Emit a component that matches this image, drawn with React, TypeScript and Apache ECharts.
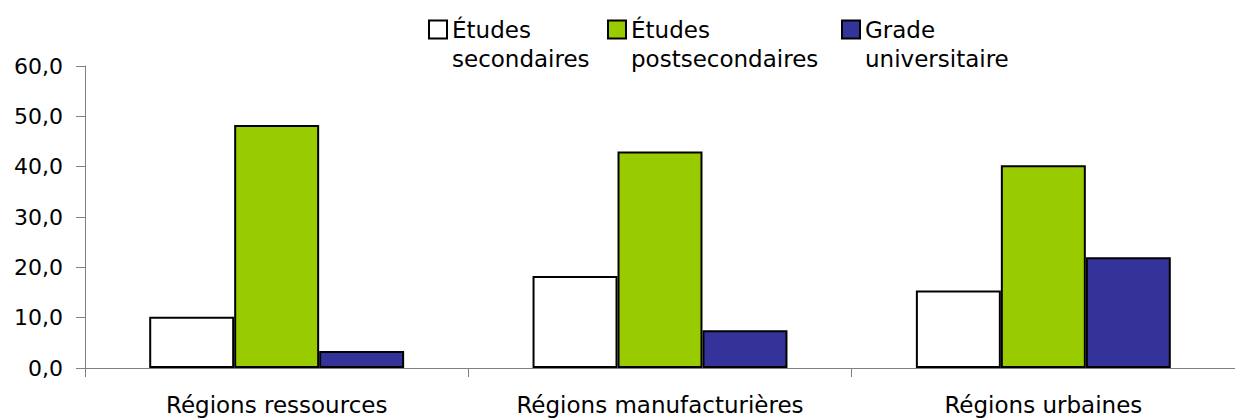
import React, { useEffect, useRef } from "react";
import * as echarts from "echarts";

const categories = ["Régions ressources", "Régions manufacturières", "Régions urbaines"];
const seriesNames = ["Études\nsecondaires", "Études\npostsecondaires", "Grade\nuniversitaire"];
const secondaires = [10.2, 18.3, 15.4];
const postsecondaires = [48.3, 43.0, 40.3];
const universitaire = [3.4, 7.5, 22.0];
const seriesValues = [secondaires, postsecondaires, universitaire];
const seriesColors = ["#FFFFFF", "#99CC00", "#333399"];
const legendLefts = [428, 607, 841];

const FONT = "DejaVu Sans";

export default function App() {
  const ref = useRef<HTMLDivElement>(null);
  useEffect(() => {
    if (!ref.current) return;
    const chart = echarts.init(ref.current, undefined, { renderer: "svg" });
    const lineH = 29;
    chart.setOption({
      animation: false,
      backgroundColor: "#FFFFFF",
      legend: seriesNames.map((n, i) => ({
        data: [n],
        left: legendLefts[i],
        top: -14,
        padding: 0,
        itemWidth: 18,
        itemHeight: 18,
        icon: "rect",
        selectedMode: false,
        formatter: (name: string) => "\n" + name,
        textStyle: {
          fontFamily: FONT,
          fontSize: 23,
          color: "#000",
          lineHeight: lineH,
        },
      })),
      grid: { left: 85, top: 66, bottom: 50, width: 1165, containLabel: false },
      xAxis: {
        type: "category",
        data: categories,
        axisLine: { lineStyle: { color: "#808080", width: 1 } },
        axisTick: { show: true, length: 9, lineStyle: { color: "#808080" } },
        axisLabel: {
          fontFamily: FONT,
          fontSize: 23,
          lineHeight: 23,
          color: "#000",
          margin: 25,
          interval: 0,
        },
      },
      yAxis: {
        type: "value",
        min: 0,
        max: 60,
        interval: 10,
        axisLine: { show: true, lineStyle: { color: "#808080", width: 1 } },
        axisTick: { show: true, length: 9, lineStyle: { color: "#808080" } },
        splitLine: { show: false },
        axisLabel: {
          fontFamily: FONT,
          fontSize: 22,
          color: "#000",
          margin: 22,
          formatter: (v: number) => v.toFixed(1).replace(".", ","),
        },
      },
      series: seriesNames.map((n, i) => ({
        name: n,
        type: "bar",
        data: seriesValues[i],
        barGap: "0%",
        barCategoryGap: "33.5%",
        itemStyle: { color: seriesColors[i], borderColor: "#000", borderWidth: 2 },
      })),
    });
    return () => chart.dispose();
  }, []);
  return (
    <div
      ref={ref}
      style={{ position: "absolute", left: 0, top: 0, width: 1235, height: 418 }}
    />
  );
}
